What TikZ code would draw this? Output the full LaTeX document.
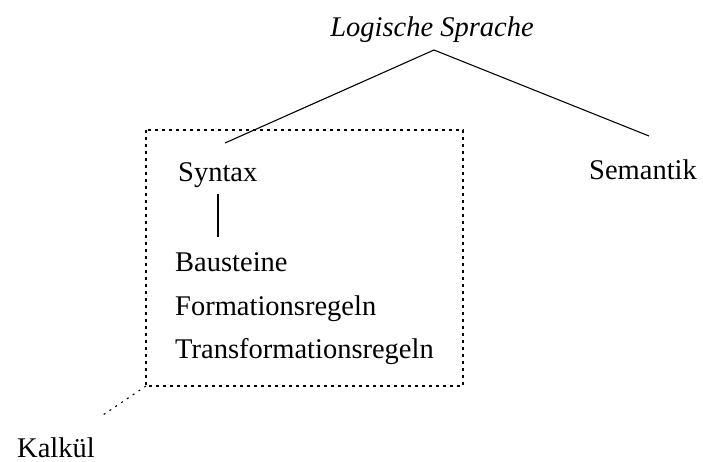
\documentclass[tikz,border=0pt]{standalone}
\usepackage{fontspec}
\setmainfont{Liberation Serif}
\begin{document}
\begin{tikzpicture}[x=1bp,y=-1bp,
  label/.style={inner sep=0pt,anchor=base west,font=\fontsize{28.5bp}{34bp}\selectfont},
  branch/.style={line width=1.1bp},
  groupbox/.style={line width=1.1bp,dash pattern=on 3bp off 4bp},
  pointer/.style={line width=1.1bp,dash pattern=on 2bp off 5bp}]
  \useasboundingbox (0,0) rectangle (703,462);

  % root and its two branches
  \node[label,anchor=base,font=\fontsize{28.5bp}{34bp}\selectfont\itshape] (root) at (432,37) {Logische Sprache};
  \node[label] (syntax) at (178,182) {Syntax};
  \node[label] (semantik) at (589,180) {Semantik};

  % parts of the syntax
  \node[label] (bausteine) at (175,272) {Bausteine};
  \node[label] (formation) at (175,316) {Formationsregeln};
  \node[label] (transformation) at (175,358) {Transformationsregeln};

  \node[label] (kalkuel) at (17,457) {Kalkül};

  % connector end points
  \coordinate (apex) at (434,50);
  \coordinate (synEnd) at (225,143);
  \coordinate (semEnd) at (649,136);
  \coordinate (synLow) at (218,194);
  \coordinate (bauTop) at (218,237);
  \coordinate (boxNW) at (146,130);
  \coordinate (boxSE) at (463,386);
  \coordinate (boxSW) at (146,386);
  \coordinate (kalEnd) at (100,417);

  \draw[branch] (synEnd) -- (apex) -- (semEnd);
  \draw[branch] (synLow) -- (bauTop);

  % the calculus: syntax with its rules
  \draw[groupbox] (boxNW) rectangle (boxSE);
  \draw[pointer] (boxSW) -- (kalEnd);
\end{tikzpicture}
\end{document}
